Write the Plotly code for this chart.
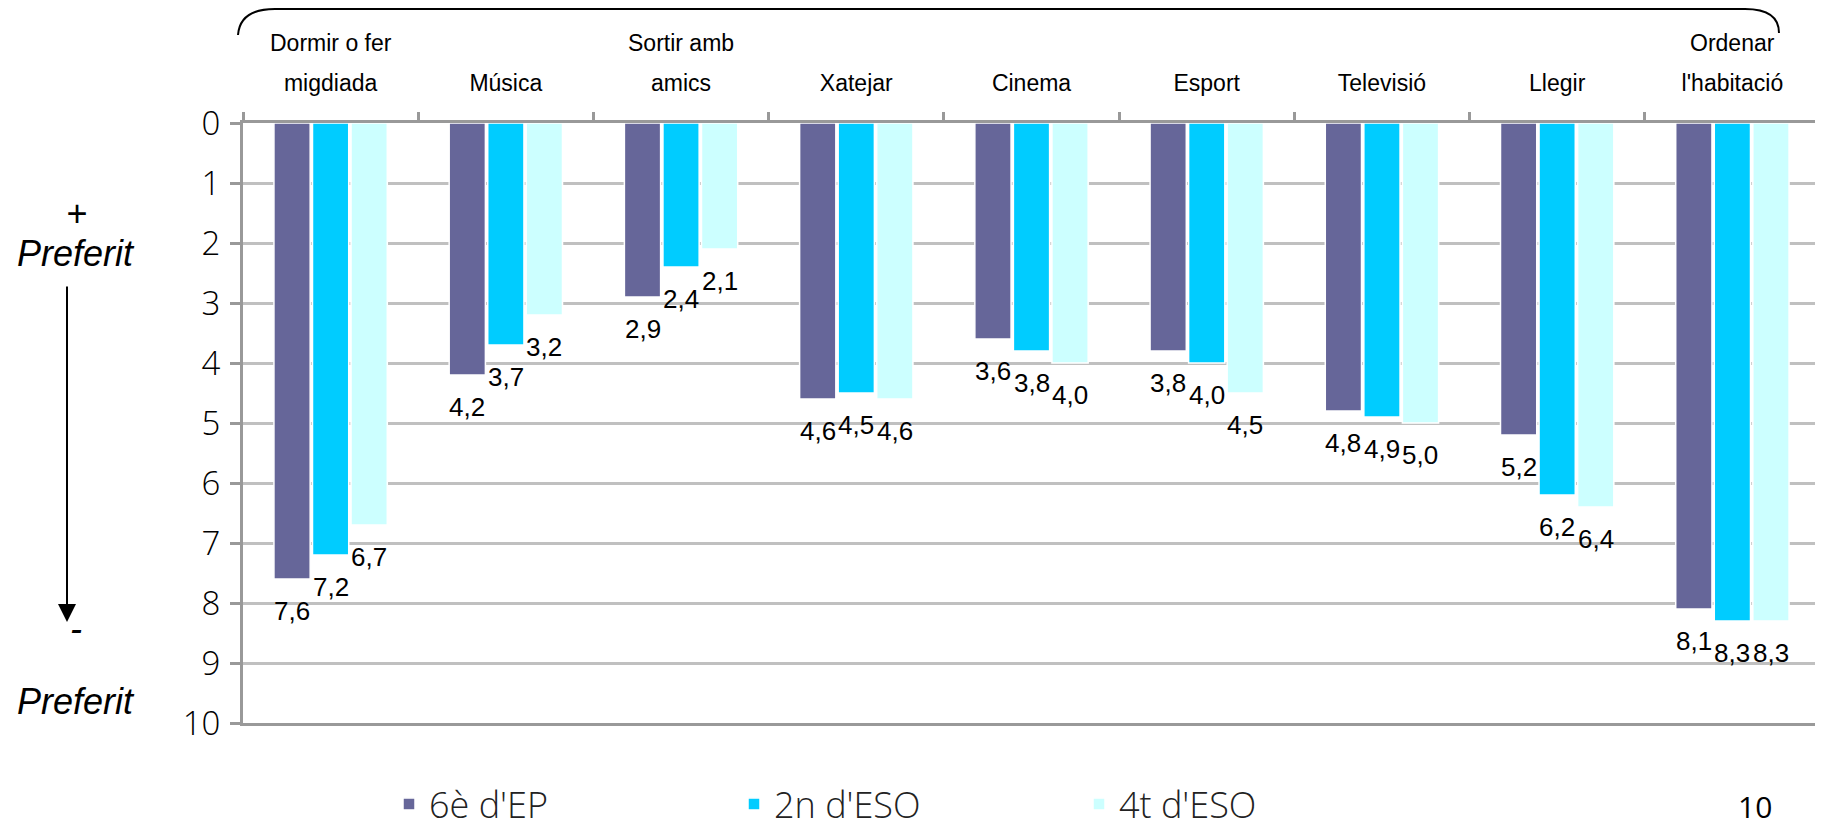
import plotly.graph_objects as go

# ---- data ----
categories = ["Dormir o fer<br>migdiada", "Música", "Sortir amb<br>amics", "Xatejar",
              "Cinema", "Esport", "Televisió", "Llegir", "Ordenar<br>l'habitació"]
series_names = ["6è d'EP", "2n d'ESO", "4t d'ESO"]
vals_6e = [7.6, 4.2, 2.9, 4.6, 3.6, 3.8, 4.8, 5.2, 8.1]
vals_2n = [7.2, 3.7, 2.4, 4.5, 3.8, 4.0, 4.9, 6.2, 8.3]
vals_4t = [6.7, 3.2, 2.1, 4.6, 4.0, 4.5, 5.0, 6.4, 8.3]
y_ticks = list(range(0, 11))
colors = ["#666699", "#00CCFF", "#CCFFFF"]

# page is 1823x830; the page body has an 8px margin, so the figure starts at (8, 8)
PAGE_W, PAGE_H, OFF = 1823, 830, 8
W, H = PAGE_W - OFF, PAGE_H - OFF
L, R, T, B = 243, 1820, 123, 723  # plot area in page pixels
BARGAP, GROUPGAP = 0.34, 0.06


def px(x):
    return (x - L) / (R - L)


def py(y):
    return (B - y) / (B - T)


fig = go.Figure()
all_vals = [vals_6e, vals_2n, vals_4t]
for name, vals, col in zip(series_names, all_vals, colors):
    fig.add_trace(go.Bar(
        name=name, x=categories, y=vals,
        marker=dict(color=col, line=dict(color="white", width=1.5)),
    ))

# value labels below bar ends
slot = (R - L) / len(categories) * (1 - BARGAP) / len(all_vals)
label_font = dict(family="Liberation Sans, Arial, sans-serif", size=26, color="black")
for k, vals in enumerate(all_vals):
    for cat, v in zip(categories, vals):
        fig.add_annotation(x=cat, y=v, xref="x", yref="y",
                           text=f"{v:.1f}".replace(".", ","), showarrow=False,
                           xshift=(k - 1) * slot, yshift=-32,
                           xanchor="center", yanchor="middle", font=label_font)

fig.update_layout(
    width=W, height=H,
    margin=dict(l=L - OFF, r=PAGE_W - R, t=T - OFF, b=PAGE_H - B, autoexpand=False),
    paper_bgcolor="white", plot_bgcolor="white",
    barmode="group", bargap=BARGAP, bargroupgap=GROUPGAP,
    separators=",.",
    font=dict(family="Liberation Sans, Arial, sans-serif", color="black"),
    xaxis=dict(
        side="top", type="category", automargin=False,
        showline=True, linecolor="#999999", linewidth=3, mirror=True,
        ticks="outside", tickson="boundaries", ticklen=8, tickcolor="#999999", tickwidth=3,
        showgrid=False,
        tickmode="array", tickvals=categories,
        ticktext=[c.split("<br>")[-1] for c in categories],
        tickfont=dict(family="Liberation Sans, Arial, sans-serif", size=23, color="black"),
        ticklabelstandoff=20,
    ),
    yaxis=dict(
        range=[10, 0], tickvals=y_ticks, ticktext=[str(v) for v in y_ticks],
        automargin=False,
        showline=True, linecolor="#999999", linewidth=3, mirror=True,
        ticks="outside", ticklen=10, tickcolor="#999999", tickwidth=3,
        showgrid=True, gridcolor="#C0C0C0", gridwidth=3, zeroline=False,
        tickfont=dict(family="Open Sans, sans-serif", size=33, color="black", weight=300),
        ticklabelstandoff=3,
    ),
    legend=dict(
        orientation="h", x=px(389), y=py(804), xanchor="left", yanchor="middle",
        entrywidth=300, entrywidthmode="pixels",
        font=dict(family="Open Sans, sans-serif", size=36, color="#222222", weight=300),
    ),
)

# first lines of two-line category labels
cat_font = dict(family="Liberation Sans, Arial, sans-serif", size=23, color="black")
for c in categories:
    parts = c.split("<br>")
    if len(parts) > 1:
        fig.add_annotation(x=c, y=py(43), xref="x", yref="paper", text=parts[0],
                           showarrow=False, font=cat_font, xanchor="center", yanchor="middle")

# top bracket
path = (f"M {px(238)},{py(35)} Q {px(240)},{py(9)} {px(275)},{py(9)} "
        f"L {px(1745)},{py(9)} Q {px(1779)},{py(9)} {px(1779)},{py(33)}")
fig.add_shape(type="path", path=path, xref="paper", yref="paper",
              line=dict(color="black", width=2))

# left annotations
side_font = dict(family="Liberation Sans, Arial, sans-serif", size=36, color="black")
for txt, yy in [("<i>+</i>", 213), ("<i>Preferit</i>", 253), ("<i>-</i>", 628), ("<i>Preferit</i>", 701)]:
    fig.add_annotation(x=px(76), y=py(yy), xref="paper", yref="paper", text=txt,
                       showarrow=False, font=side_font, xanchor="center", yanchor="middle")

# arrow
fig.add_annotation(x=px(67), y=py(622), xref="paper", yref="paper", text="",
                   showarrow=True, ax=0, ay=-(622 - 285), arrowhead=2, arrowsize=1.8,
                   arrowwidth=2, arrowcolor="black")

# page number
fig.add_annotation(x=px(1755), y=py(806), xref="paper", yref="paper", text="10",
                   showarrow=False, font=dict(family="Open Sans, sans-serif", size=30, color="black"),
                   xanchor="center", yanchor="middle")

fig.write_html("out.html")
